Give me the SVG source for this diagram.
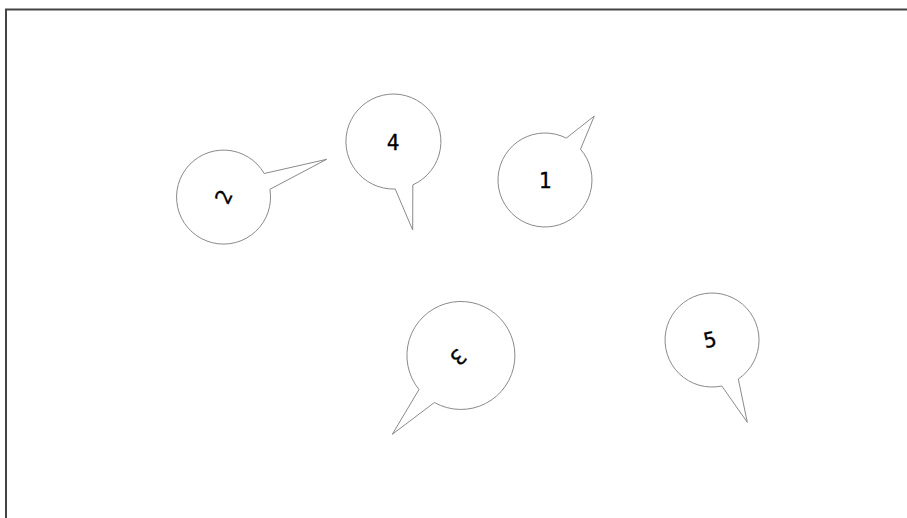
<svg xmlns="http://www.w3.org/2000/svg" width="907" height="518" viewBox="0 0 907 518">
<style>
.frame{fill:none;stroke:#444;stroke-width:2}
.bubble path{fill:#fff;stroke:#8a8a8a;stroke-width:1}
.bubble text{font-family:"DejaVu Sans Mono","Liberation Mono",monospace;font-size:21px;fill:#000;stroke:#000;stroke-width:0.3;text-anchor:middle;dominant-baseline:central}
</style>
<rect width="907" height="518" fill="#fff"/>
<rect class="frame" x="6" y="9.5" width="1000" height="600"/>
<g id="connectors"></g>
<g id="node-1" class="bubble">
<path d="M580.5,149.2 A47,47 0 1 1 566.3,138.1 L594.3,116 Z"/>
<text x="545" y="181">1</text>
</g>
<g id="node-2" class="bubble">
<path d="M269.9,189.3 A47,47 0 1 1 264.2,173.5 L326.7,159.3 Z"/>
<text x="224" y="197" transform="rotate(-65 224 197)">2</text>
</g>
<g id="node-3" class="bubble">
<path d="M419,389.5 A54,54 0 1 1 434.4,402.5 L392.3,434.3 Z"/>
<text x="458" y="357" transform="rotate(135 458 357)">3</text>
</g>
<g id="node-4" class="bubble">
<path d="M395.2,189 A47.5,47.5 0 1 1 412.8,184.9 L412.7,230 Z"/>
<text x="393" y="143">4</text>
</g>
<g id="node-5" class="bubble">
<path d="M721.8,386 A47,47 0 1 1 738.3,379 L747.3,422.3 Z"/>
<text x="710" y="340" transform="rotate(-12 710 340)">5</text>
</g>
</svg>
